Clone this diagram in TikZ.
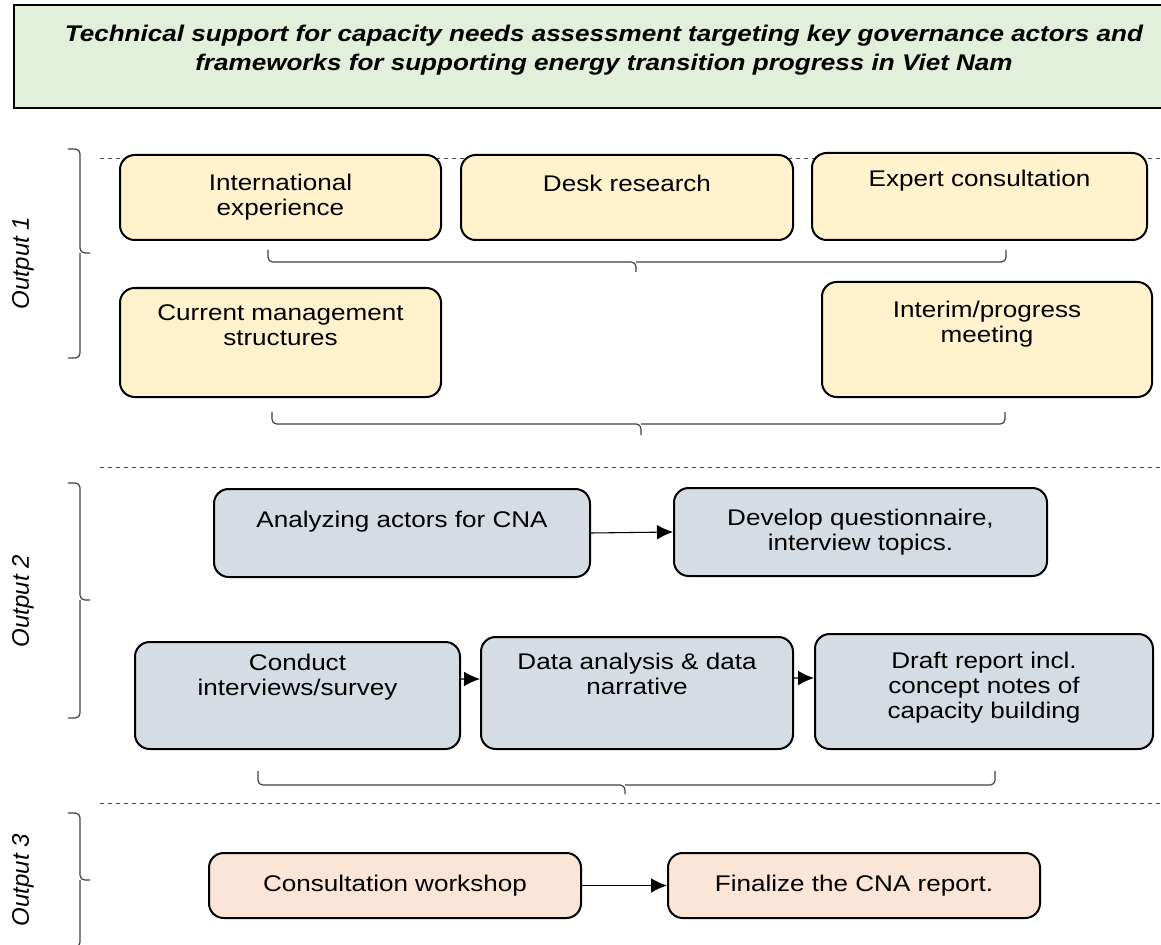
\documentclass[tikz,border=0pt]{standalone}
\usepackage{fontspec}
\setmainfont{Liberation Sans}[FakeStretch=1.15]
\newfontfamily\outfont{Liberation Sans}
\usetikzlibrary{arrows.meta}

\definecolor{titlegreen}{HTML}{E2EFDA}
\definecolor{stepyellow}{HTML}{FFF2CC}
\definecolor{stepblue}{HTML}{D6DCE4}
\definecolor{steppeach}{HTML}{FBE5D6}

\begin{document}
\begin{tikzpicture}[x=0.75pt,y=-0.75pt,>={Latex[length=12pt,width=11pt]},
  stage/.style={draw=black,line width=1.5pt,rounded corners=11pt,align=center,inner sep=0pt,font=\fontsize{17}{18.75}\selectfont},
  flow/.style={->,line width=0.8pt},
  sepline/.style={dashed,draw=black!70,line width=0.6pt},
  bracket/.style={draw=black!75,line width=0.9pt,rounded corners=3.5pt},
  outlabel/.style={rotate=90,font=\outfont\itshape\fontsize{18}{20}\selectfont}]
\useasboundingbox (0,0) rectangle (1161,945);

% heading
\node[draw=black,line width=1.8pt,fill=titlegreen,minimum width=885pt,minimum height=77.25pt,align=center,inner sep=0pt,text depth=12.5pt,font=\bfseries\itshape\fontsize{17}{21.75}\selectfont] (head) at (604,56.5) {Technical support for capacity needs assessment targeting key governance actors and\\frameworks for supporting energy transition progress in Viet Nam};

% separators
\draw[sepline] (100,158) -- (1161,158);
\draw[sepline] (100,467) -- (1161,467);
\draw[sepline] (100,803) -- (1161,803);

% output 1
\node[outlabel] (out1) at (23,263) {Output 1};
\draw[bracket] (68,149) -| (80,253) -- (90,253) (80,253) |- (68,358);
\node[stage,fill=stepyellow,minimum width=240.75pt,minimum height=63.75pt] (o1_intl) at (280.5,197.5) {International\\experience};
\node[stage,fill=stepyellow,minimum width=249pt,minimum height=63.75pt,text depth=21.5pt] (o1_desk) at (627,197.5) {Desk research};
\node[stage,fill=stepyellow,minimum width=251.25pt,minimum height=65.25pt,text depth=27.5pt] (o1_exp) at (979.5,196.5) {Expert consultation};
\draw[bracket] (268,250) |- (636,262) -- (636,272) (636,262) -| (1006,250);
\node[stage,fill=stepyellow,minimum width=240.75pt,minimum height=81.75pt,text depth=26pt] (o1_curr) at (280.5,342.5) {Current management\\structures};
\node[stage,fill=stepyellow,minimum width=247.5pt,minimum height=86.25pt,text depth=26pt] (o1_meet) at (987,339.5) {Interim/progress\\meeting};
\draw[bracket] (272,412) |- (641,424) -- (641,435) (641,424) -| (1005,412);

% output 2
\node[outlabel] (out2) at (23,601) {Output 2};
\draw[bracket] (68,483) -| (80,600) -- (90,600) (80,600) |- (68,718);
\node[stage,fill=stepblue,minimum width=282pt,minimum height=66pt,text depth=20pt] (o2_actors) at (402,533) {Analyzing actors for CNA};
\node[stage,fill=stepblue,minimum width=279.75pt,minimum height=66pt] (o2_quest) at (860.5,532) {Develop questionnaire,\\interview topics.};
\node[stage,fill=stepblue,minimum width=243.75pt,minimum height=80.25pt,text depth=30.5pt] (o2_conduct) at (297.5,695.5) {Conduct\\interviews/survey};
\node[stage,fill=stepblue,minimum width=234pt,minimum height=84pt,text depth=29pt] (o2_data) at (637,693) {Data analysis \& data\\narrative};
\node[stage,fill=stepblue,minimum width=253.5pt,minimum height=86.25pt,text depth=9.5pt] (o2_draft) at (984,691.5) {Draft report incl.\\concept notes of\\capacity building};
\draw[flow] (o2_actors.east) -- (o2_quest.west);
\draw[flow] ([yshift=12.4pt]o2_conduct.east) -- ([yshift=10.5pt]o2_data.west);
\draw[flow] ([yshift=11.25pt]o2_data.east) -- ([yshift=10.1pt]o2_draft.west);
\draw[bracket] (258,771) |- (625,785) -- (625,794) (625,785) -| (995,771);

% output 3
\node[outlabel] (out3) at (23,880) {Output 3};
\draw[bracket] (68,813) -| (80,880) -- (90,880) (80,880) |- (68,947);
\node[stage,fill=steppeach,minimum width=279pt,minimum height=48.75pt] (o3_work) at (395,885.5) {Consultation workshop};
\node[stage,fill=steppeach,minimum width=279pt,minimum height=48.75pt] (o3_final) at (854,885.5) {Finalize the CNA report.};
\draw[flow] (o3_work.east) -- (o3_final.west);
\end{tikzpicture}
\end{document}
